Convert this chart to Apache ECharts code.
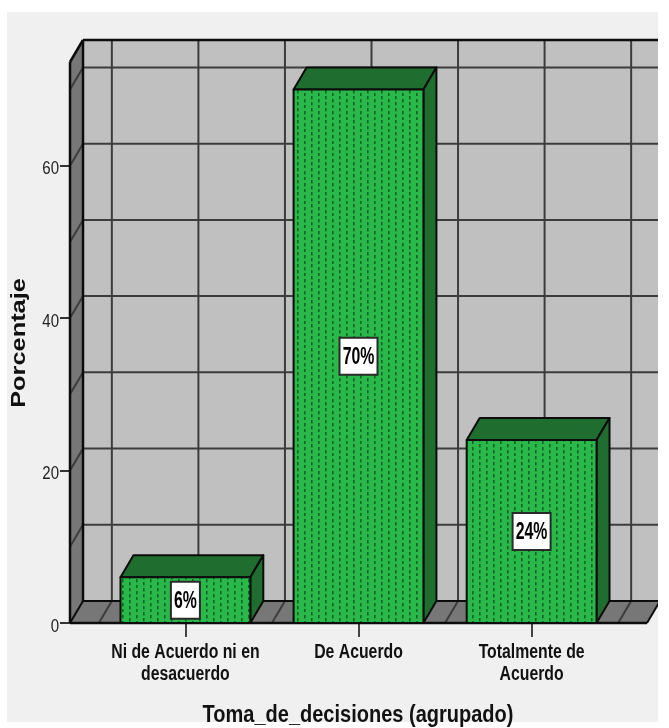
<!DOCTYPE html>
<html>
<head>
<meta charset="utf-8">
<style>html,body{margin:0;padding:0;background:#fff}#chart{width:669px;height:728px}</style>
<script src="https://cdn.jsdelivr.net/npm/echarts@6/dist/echarts.min.js"></script>
</head>
<body>
<div id="chart"></div>
<script>
// Distribution of answers for "Toma_de_decisiones", drawn as a 3D-look bar chart.
const categories = ['Ni de Acuerdo ni en\ndesacuerdo', 'De Acuerdo', 'Totalmente de\nAcuerdo'];
const categoryPositions = [1, 2, 3];
const percentages = [6, 70, 24];
const yTickValues = [0, 20, 40, 60];
const wallRows = [0, 10, 20, 30, 40, 50, 60, 70];
const wallColumns = [0.5, 1, 1.5, 2, 2.5, 3, 3.5];
const xTitle = 'Toma_de_decisiones (agrupado)';
const yTitle = 'Porcentaje';

const xRange = [1 / 3, 11 / 3];
const yRange = [0, 73.6];

// Oblique projection offset of the back plane, in pixels.
const depthX = 13;
const depthY = -22;
const barWidthUnits = 0.75;

const sans = '"Liberation Sans", Arial, sans-serif';
const ink = '#0c0c0c';
const gridInk = '#3c3c3c';

// Tile of staggered dark dashes for the bar fronts.
function makeDotTile() {
  const tile = document.createElement('canvas');
  tile.width = 14;
  tile.height = 12;
  const ctx = tile.getContext('2d');
  ctx.fillStyle = '#2bb84a';
  ctx.fillRect(0, 0, 14, 12);
  ctx.fillStyle = '#0f6428';
  [[3, 0], [3, 6], [10, 3], [10, 9]].forEach(function (d) {
    ctx.fillRect(d[0], d[1], 1.6, 3.4);
  });
  return tile;
}
const dotFill = { image: makeDotTile(), repeat: 'repeat' };

function line(a, b, stroke, width) {
  return {
    type: 'line',
    shape: { x1: a[0], y1: a[1], x2: b[0], y2: b[1] },
    style: { stroke: stroke, lineWidth: width }
  };
}
function poly(points, fill, stroke, width) {
  return {
    type: 'polygon',
    shape: { points: points },
    style: { fill: fill, stroke: stroke, lineWidth: width, lineJoin: 'round' }
  };
}
const back = function (p) { return [p[0] + depthX, p[1] + depthY]; };

function renderWalls(params, api) {
  const bl = api.coord([xRange[0], yRange[0]]);
  const br = api.coord([xRange[1], yRange[0]]);
  const tl = api.coord([xRange[0], yRange[1]]);
  const tr = api.coord([xRange[1], yRange[1]]);
  const children = [
    poly([back(tl), back(tr), back(br), back(bl)], '#c0c0c0', 'none', 0),
    poly([tl, back(tl), back(bl), bl], '#777777', 'none', 0),
    poly([bl, br, back(br), back(bl)], '#777777', 'none', 0)
  ];
  wallRows.forEach(function (v) {
    const p = api.coord([xRange[0], v]);
    const q = api.coord([xRange[1], v]);
    if (v > 0) {
      children.push(line(back(p), back(q), gridInk, 2));
      children.push(line(p, back(p), gridInk, 2));
    }
  });
  wallColumns.forEach(function (v) {
    const p = api.coord([v, yRange[0]]);
    const q = api.coord([v, yRange[1]]);
    children.push(line(back(p), back(q), gridInk, 2));
    children.push(line(p, back(p), gridInk, 2));
  });
  children.push(line(back(tl), back(tr), ink, 2.5));
  children.push(line(back(bl), back(br), ink, 2));
  children.push(line(back(tl), back(bl), ink, 2.5));
  children.push(line(tl, bl, ink, 2.5));
  children.push(line(tl, back(tl), ink, 2.5));
  children.push(line(bl, back(bl), ink, 2));
  children.push(line(br, back(br), ink, 2));
  children.push(line(bl, br, ink, 2.5));
  return { type: 'group', children: children };
}

function renderBar(params, api) {
  const x = api.value(0);
  const v = api.value(1);
  const a = api.coord([x - barWidthUnits / 2, 0]);
  const b = api.coord([x + barWidthUnits / 2, v]);
  const fl = [a[0], b[1]], fr = [b[0], b[1]], gl = a, gr = [b[0], a[1]];
  const label = v + '%';
  const boxW = 11 + 9 * label.length;
  const boxH = 37;
  const cx = (a[0] + b[0]) / 2;
  const cy = (a[1] + b[1]) / 2;
  return {
    type: 'group',
    children: [
      poly([fl, back(fl), back(fr), fr], '#1f6e2f', ink, 2),
      poly([fr, back(fr), back(gr), gr], '#1f6e2f', ink, 2),
      poly([fl, fr, gr, gl], dotFill, ink, 2),
      {
        type: 'rect',
        shape: { x: cx - boxW / 2, y: cy - boxH / 2, width: boxW, height: boxH },
        style: { fill: '#fff', stroke: '#2a2a2a', lineWidth: 2 }
      },
      {
        type: 'text',
        x: cx,
        y: cy + 1,
        scaleX: 0.66,
        style: {
          text: label,
          fill: '#000',
          font: 'bold 24px ' + sans,
          align: 'center',
          verticalAlign: 'middle'
        }
      }
    ]
  };
}

// Narrow, tall axis lettering: regular fonts squeezed horizontally.
function renderCategoryLabel(params, api) {
  const p = api.coord([api.value(0), 0]);
  return {
    type: 'text',
    x: p[0],
    y: p[1] + 18,
    scaleX: 0.79,
    style: {
      text: categories[params.dataIndex],
      fill: '#111',
      font: 'bold 20px ' + sans,
      lineHeight: 22,
      align: 'center',
      verticalAlign: 'top'
    }
  };
}
function renderValueLabel(params, api) {
  const p = api.coord([xRange[0], api.value(0)]);
  return {
    type: 'text',
    x: p[0] - 11,
    y: p[1] + 3.5,
    scaleX: 0.79,
    style: {
      text: String(api.value(0)),
      fill: '#222',
      font: '19px ' + sans,
      align: 'right',
      verticalAlign: 'middle'
    }
  };
}

const chart = echarts.init(document.getElementById('chart'), null, { renderer: 'canvas' });
chart.setOption({
  animation: false,
  backgroundColor: '#ffffff',
  graphic: [
    {
      type: 'rect',
      silent: true,
      z: -10,
      shape: { x: 7, y: 12, width: 651, height: 710 },
      style: { fill: '#f0f0f0' }
    },
    {
      // Keeps the right margin clean where the back wall runs past the panel.
      type: 'rect',
      silent: true,
      z: 100,
      shape: { x: 658, y: 0, width: 11, height: 728 },
      style: { fill: '#ffffff' }
    },
    {
      type: 'text',
      silent: true,
      z: 50,
      x: 358,
      y: 716,
      scaleX: 0.87,
      style: {
        text: xTitle,
        fill: '#111',
        font: 'bold 23px ' + sans,
        align: 'center',
        verticalAlign: 'middle'
      }
    },
    {
      type: 'text',
      silent: true,
      z: 50,
      x: 20,
      y: 343,
      rotation: Math.PI / 2,
      scaleX: 1.3,
      style: {
        text: yTitle,
        fill: '#111',
        font: 'bold 19.5px ' + sans,
        align: 'center',
        verticalAlign: 'middle'
      }
    }
  ],
  grid: { left: 70, right: 22, top: 62, bottom: 105, outerBoundsMode: 'none' },
  xAxis: {
    type: 'value',
    min: xRange[0],
    max: xRange[1],
    splitLine: { show: false },
    axisLine: { show: false },
    axisTick: { show: true, length: 14, customValues: categoryPositions, lineStyle: { color: '#444', width: 2 } },
    axisLabel: { show: false }
  },
  yAxis: {
    type: 'value',
    min: yRange[0],
    max: yRange[1],
    splitLine: { show: false },
    axisLine: { show: false },
    axisTick: { show: true, length: 10, customValues: yTickValues, lineStyle: { color: '#333', width: 2 } },
    axisLabel: { show: false }
  },
  series: [
    {
      type: 'custom',
      name: 'walls',
      silent: true,
      clip: false,
      z: 1,
      encode: { x: 0, y: 1 },
      data: [[xRange[0], yRange[0]]],
      renderItem: renderWalls
    },
    {
      type: 'custom',
      name: yTitle,
      clip: false,
      z: 3,
      encode: { x: 0, y: 1 },
      data: categoryPositions.map(function (p, i) { return [p, percentages[i]]; }),
      renderItem: renderBar
    },
    {
      type: 'custom',
      name: 'category labels',
      silent: true,
      clip: false,
      z: 4,
      encode: { x: 0 },
      data: categoryPositions.map(function (p) { return [p]; }),
      renderItem: renderCategoryLabel
    },
    {
      type: 'custom',
      name: 'value labels',
      silent: true,
      clip: false,
      z: 4,
      encode: { y: 0 },
      data: yTickValues.map(function (v) { return [v]; }),
      renderItem: renderValueLabel
    }
  ]
});
</script>
</body>
</html>
